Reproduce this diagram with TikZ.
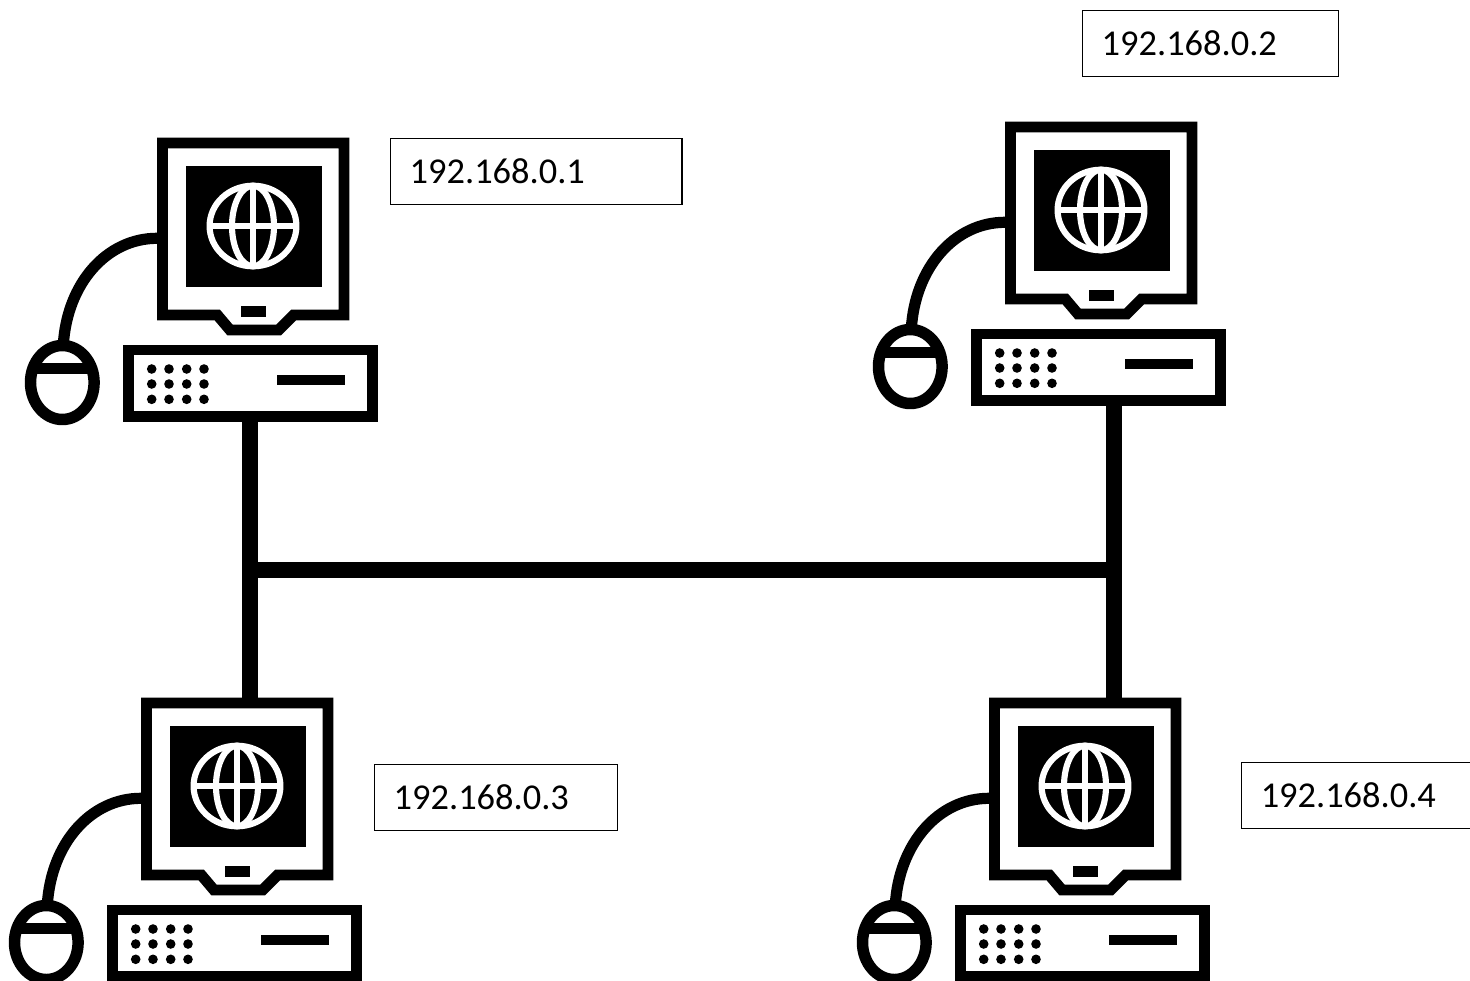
\documentclass[tikz,border=0pt]{standalone}
\usepackage{fontspec}
\setmainfont{Carlito}
\tikzset{
  x=0.75pt,y=-0.75pt,
  frame/.style={draw=black,line width=8.2pt,line join=miter},
  cable/.style={draw=black,line width=8.4pt},
  globe/.style={draw=white,line width=4.6pt},
  wire/.style={draw=black,line width=12pt},
  labelbox/.style={draw=black,line width=1.1pt,fill=white,inner sep=0pt,minimum height=49.5pt,
    text depth=1.5pt,font=\fontsize{27.3pt}{30pt}\selectfont},
  pcbase/.style={draw=black,line width=8.2pt,inner sep=0pt,minimum width=183pt,minimum height=50.2pt,outer sep=4.1pt,anchor=north west},
  pcpoint/.style={inner sep=0pt,minimum size=0pt},
  computer/.pic={
    \draw[frame] (5.5,5) -- (187,5) -- (187,177) -- (136.7,177) -- (121.7,192) -- (73,192) -- (60.3,177) -- (5.5,177) -- cycle;
    \fill[black] (29,28) rectangle (165,148.7);
    \draw[globe] (96,88) ellipse [x radius=43.4,y radius=40.3];
    \draw[globe] (96,88) ellipse [x radius=21,y radius=40.3];
    \draw[globe] (96,47.7) -- (96,128.3);
    \draw[globe] (52.6,88) -- (139.4,88);
    \fill[black] (84,168) rectangle (109,179);
    \draw[cable] (0,100.3) .. controls (-50,100.3) and (-90,145) .. (-93.7,207);
    \draw[frame,line width=8.6pt] (-94.7,244.5) ellipse [x radius=31.8,y radius=37];
    \draw[draw=black,line width=7.8pt] (-124,230.3) -- (-65,230.3);
    \node[pcbase] (base) at (-34.3,206.5) {};
    \foreach \px in {-5.3,12,29.7,47}
      \foreach \py in {231,246,261.3}
        \fill[black] (\px,\py) circle [radius=4.8];
    \fill[black] (120,237) rectangle (188,247);
    \node[pcpoint] (top) at (96,0) {};
  }
}
\begin{document}
\begin{tikzpicture}
\useasboundingbox (0,0) rectangle (1470,981);
\fill[white] (0,0) rectangle (1470,981);
\pic (pa) at (157,138) {computer};
\pic (pb) at (1005,122) {computer};
\pic (pc) at (141,698) {computer};
\pic (pd) at (989,698) {computer};
\coordinate (jl) at (249.5,570);
\coordinate (jr) at (1113.5,570);
\draw[wire] (pabase.south -| jl) -- (pctop.north -| jl);
\draw[wire] (pbbase.south -| jr) -- (pdtop.north -| jr);
\draw[wire] (jl) -- (jr);
\node[labelbox,anchor=north west,minimum width=218.5pt,text width=190pt,align=left] (la) at (390,138) {192.168.0.1};
\node[labelbox,anchor=north west,minimum width=192pt,text width=163.5pt,align=left] (lb) at (1082,10) {192.168.0.2};
\node[labelbox,anchor=north west,minimum width=182pt,text width=153.5pt,align=left] (lc) at (374,764) {192.168.0.3};
\node[labelbox,anchor=north west,minimum width=180pt,text width=151.5pt,align=left] (ld) at (1241,762) {192.168.0.4};
\end{tikzpicture}
\end{document}
